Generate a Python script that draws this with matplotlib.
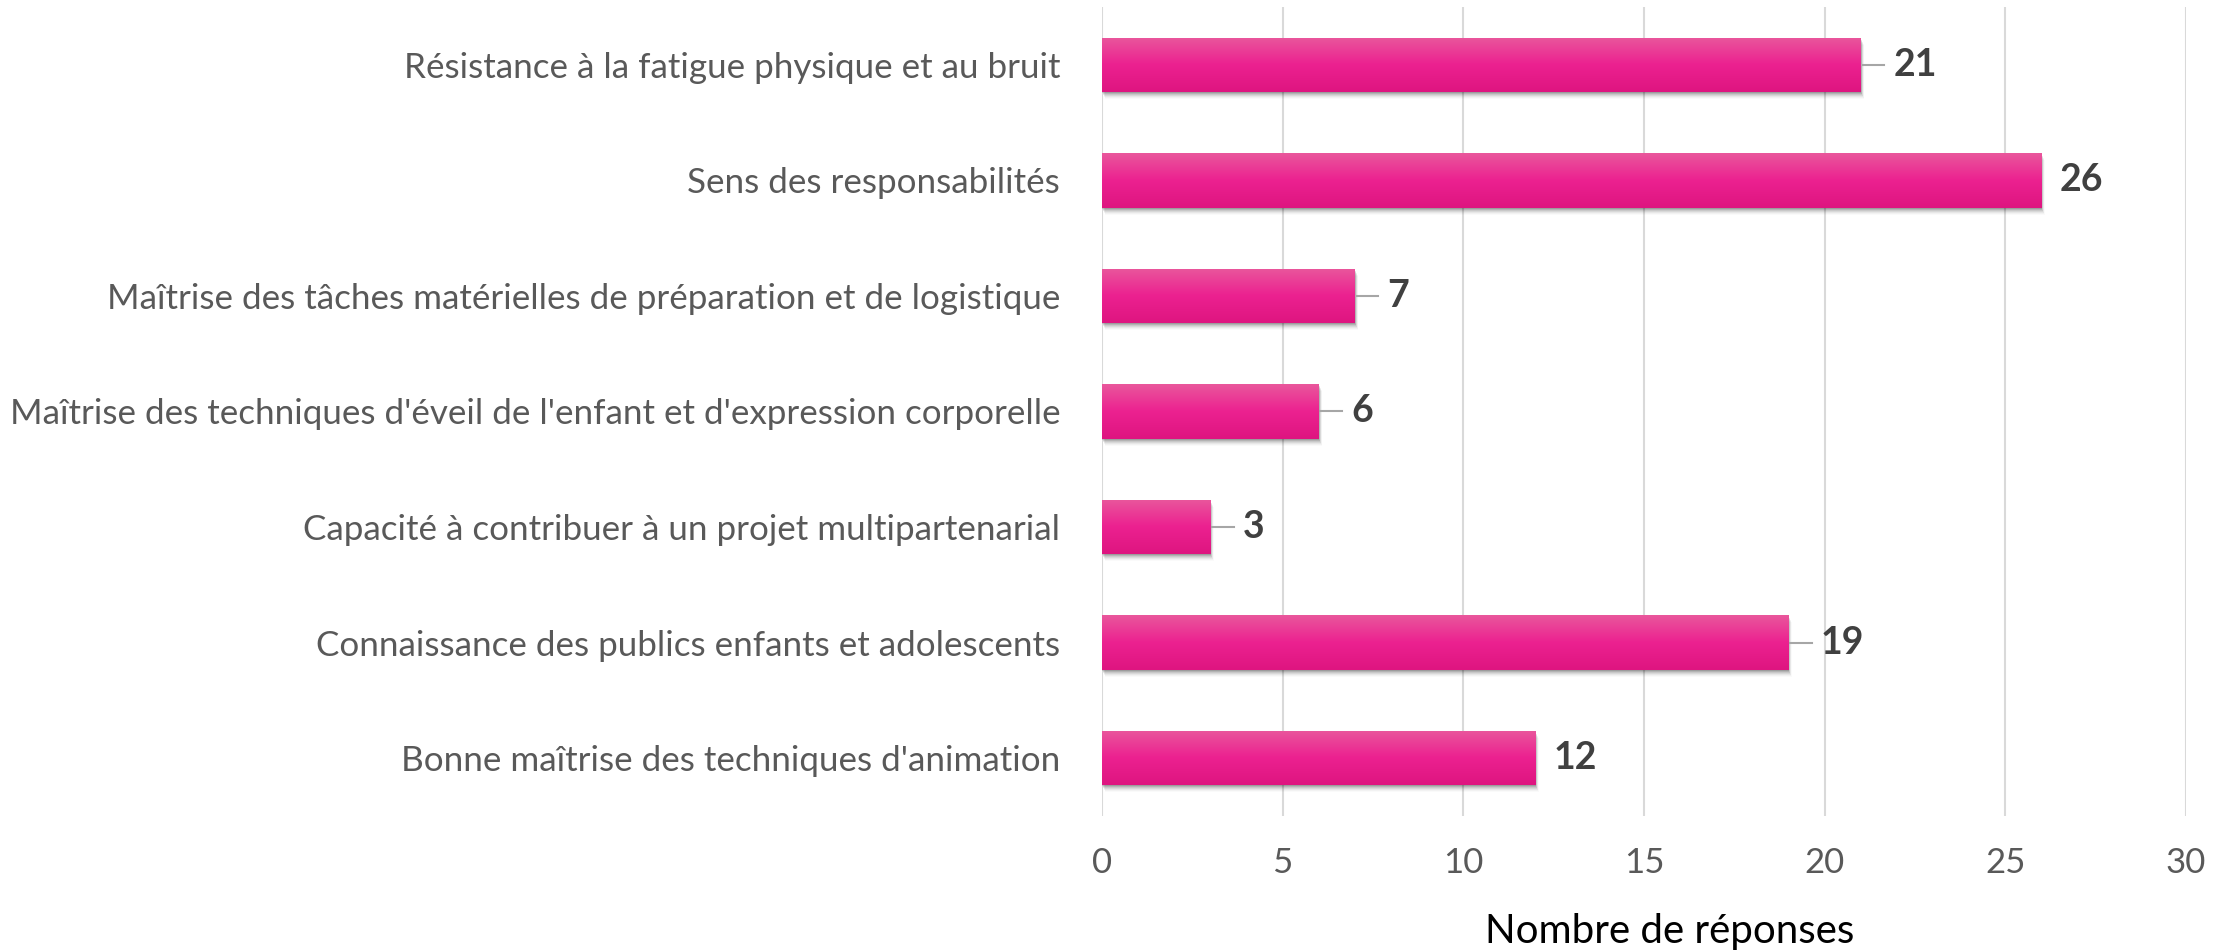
import matplotlib
matplotlib.use("Agg")
import matplotlib.pyplot as plt
import matplotlib.transforms as mtransforms
from matplotlib.patches import Rectangle
from matplotlib.colors import LinearSegmentedColormap
import numpy as np

categories = [
    "Résistance à la fatigue physique et au bruit",
    "Sens des responsabilités",
    "Maîtrise des tâches matérielles de préparation et de logistique",
    "Maîtrise des techniques d'éveil de l'enfant et d'expression corporelle",
    "Capacité à contribuer à un projet multipartenarial",
    "Connaissance des publics enfants et adolescents",
    "Bonne maîtrise des techniques d'animation",
]
values = [21, 26, 7, 6, 3, 19, 12]
# labels drawn with a short leader line in the original
leader = [True, False, True, True, True, True, False]
xticks = [0, 5, 10, 15, 20, 25, 30]
xlabel = "Nombre de réponses"

plt.rcParams['font.family'] = ['Lato', 'DejaVu Sans']

fig = plt.figure(figsize=(22.26, 9.51), dpi=100)
ax = fig.add_axes([0.495, 0.142, 0.487, 0.8506])

bar_h = 0.47
ypos = np.arange(len(categories))
grad = LinearSegmentedColormap.from_list("pinkgrad", ["#E9579C", "#EC2190", "#DE1580"])

for i, (y, v) in enumerate(zip(ypos, values)):
    # soft shadow below / right of the bar
    for k, a in zip(range(1, 8), [0.12, 0.10, 0.08, 0.06, 0.045, 0.03, 0.02]):
        off = mtransforms.ScaledTranslation(k * 0.5 / 100, -k * 1.0 / 100, fig.dpi_scale_trans)
        sh = Rectangle((0, y - bar_h / 2), v, bar_h, facecolor="black", alpha=a,
                       edgecolor="none", transform=ax.transData + off, zorder=2)
        ax.add_patch(sh)
    rect = Rectangle((0, y - bar_h / 2), v, bar_h, facecolor="#EC2190", edgecolor="none", zorder=3)
    ax.add_patch(rect)
    img = ax.imshow(np.linspace(0, 1, 100).reshape(-1, 1), cmap=grad, aspect="auto",
                    extent=(0, v, y + bar_h / 2, y - bar_h / 2), origin="upper", zorder=4)
    img.set_clip_path(rect)

    if leader[i]:
        ax.plot([v + 0.05, v + 0.65], [y, y], color="#A6A6A6", lw=1.5, zorder=5)
        ax.text(v + 0.9, y, str(v), va="center", ha="left", fontsize=27,
                fontweight="bold", color="#404040")
    else:
        ax.text(v + 0.5, y, str(v), va="center", ha="left", fontsize=27,
                fontweight="bold", color="#404040")

ax.set_xlim(0, 30)
ax.set_ylim(len(categories) - 0.5, -0.5)
ax.set_xticks(xticks)
ax.set_yticks(ypos)
ax.set_yticklabels(categories)
ax.tick_params(axis="y", length=0, pad=30, labelsize=26, labelcolor="#595959")
ax.tick_params(axis="x", length=0, pad=22, labelsize=25, labelcolor="#595959")
ax.grid(axis="x", color="#D9D9D9", lw=1.5, zorder=0)
ax.set_axisbelow(True)
for s in ax.spines.values():
    s.set_visible(False)

# shrink the category labels so the longest one fits the left margin
fig.canvas.draw()
r = fig.canvas.get_renderer()
widest = max(t.get_window_extent(r).width for t in ax.get_yticklabels())
if widest > 1045:
    for t in ax.get_yticklabels():
        t.set_fontsize(26 * 1045 / widest)

fig.text(0.750, 0.021, xlabel, ha="center", va="center", fontsize=29, color="#000000")

fig.savefig("out.png", dpi=100)
